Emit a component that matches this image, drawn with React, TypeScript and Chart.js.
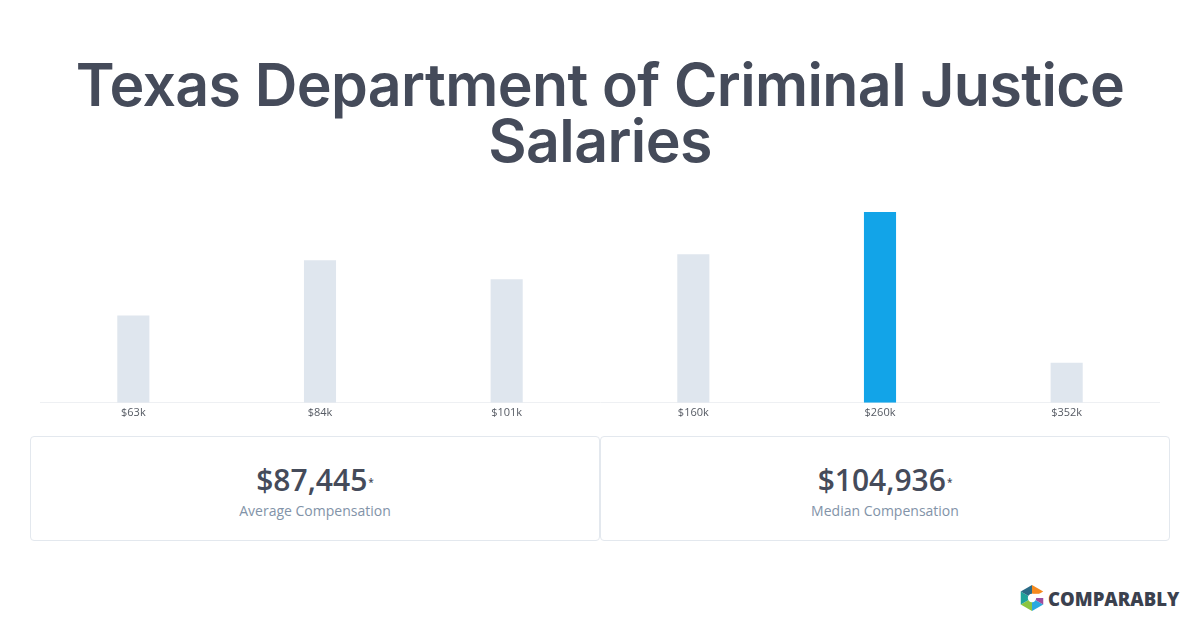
import React, { useEffect, useRef } from "react";
import { Chart, registerables } from "chart.js";

Chart.register(...registerables);

const titleLines = ["Texas Department of Criminal Justice", "Salaries"];
const categories = ["$63k", "$84k", "$101k", "$160k", "$260k", "$352k"];
const barHeights = [87, 142, 123, 148, 190, 40];
const highlightIndex = 4;
const statValues = ["$87,445", "$104,936"];
const statLabels = ["Average Compensation", "Median Compensation"];

const GREY = "#dfe6ee";
const BLUE = "#12a4e8";

function BarChart() {
  const ref = useRef<HTMLCanvasElement | null>(null);
  useEffect(() => {
    if (!ref.current) return;
    const chart = new Chart(ref.current, {
      type: "bar",
      data: {
        labels: categories,
        datasets: [
          {
            data: barHeights,
            backgroundColor: barHeights.map((_, i) => (i === highlightIndex ? BLUE : GREY)),
            barPercentage: 0.172,
            categoryPercentage: 1,
            borderWidth: 0,
          },
        ],
      },
      options: {
        responsive: false,
        animation: false,
        maintainAspectRatio: false,
        layout: { padding: 0 },
        plugins: { legend: { display: false }, tooltip: { enabled: false }, title: { display: false } },
        scales: {
          x: {
            grid: { display: false, drawTicks: false },
            border: { display: true, color: "#eef0f3", width: 1 },
            ticks: { color: "#555a63", font: { family: "'Open Sans'", size: 11 }, padding: 3 },
          },
          y: {
            display: false,
            min: 0,
            max: 190,
          },
        },
      },
    });
    return () => chart.destroy();
  }, []);
  return <canvas ref={ref} width={1120} height={210} style={{ width: 1120, height: 210, display: "block" }} />;
}

function Logo() {
  const cx = 13, cy = 13, r = 13;
  const pts = Array.from({ length: 6 }, (_, k) => {
    const a = (Math.PI / 3) * k - Math.PI / 2;
    return [cx + r * Math.cos(a), cy + r * Math.sin(a)];
  });
  const cols = ["#f58a1f", "#9d4c9e", "#2aa9e0", "#8cc540", "#1fa39b", "#2a6a86"];
  return (
    <div style={{ position: "absolute", left: 1019, top: 585, display: "flex", alignItems: "center" }}>
      <svg width={26} height={26} viewBox="0 0 26 26">
        {pts.map((p, k) => {
          const q = pts[(k + 1) % 6];
          if (k === 1) return null;
          return <polygon key={k} points={`${cx},${cy} ${p[0]},${p[1]} ${q[0]},${q[1]}`} fill={cols[k]} />;
        })}
        <polygon points={`${cx},${cy} ${pts[2][0]},${pts[2][1]} ${pts[2][0]},${cy}`} fill={cols[1]} />
        <circle cx={cx} cy={cy} r={4.2} fill="#fff" />
        <rect x={cx} y={cy - 4.2} width={r} height={4.2} fill="#fff" />
      </svg>
      <span
        style={{
          marginLeft: 3,
          fontFamily: "'Open Sans', sans-serif",
          fontWeight: 800,
          fontSize: 18.5,
          color: "#3b414e",
        }}
      >
        COMPARABLY
      </span>
    </div>
  );
}

export default function App() {
  return (
    <div style={{ position: "absolute", left: 0, top: 0, width: 1200, height: 630, background: "#fff", overflow: "hidden" }}>
      <div
        style={{
          position: "absolute",
          left: 0,
          top: 57,
          width: 1200,
          textAlign: "center",
          fontFamily: "Inter, sans-serif",
          fontWeight: 600,
          fontSize: 59,
          lineHeight: "56px",
          color: "#454b5a",
          letterSpacing: -0.6,
        }}
      >
        {titleLines.map((t, i) => (
          <div key={i}>{t}</div>
        ))}
      </div>
      <div style={{ position: "absolute", left: 40, top: 212 }}>
        <BarChart />
      </div>
      {statValues.map((v, i) => (
        <div
          key={i}
          style={{
            position: "absolute",
            left: 30 + i * 570,
            top: 436,
            width: 570,
            height: 105,
            boxSizing: "border-box",
            border: "1px solid #e3e8ee",
            borderRadius: 4,
            textAlign: "center",
            fontFamily: "'Open Sans', sans-serif",
          }}
        >
          <div style={{ marginTop: 23, fontSize: 30, fontWeight: 600, color: "#454b5a", lineHeight: "40px" }}>
            {v}
            <sup style={{ fontSize: 10, fontWeight: 600, verticalAlign: "top", position: "relative", top: 2, marginLeft: 1 }}>*</sup>
          </div>
          <div style={{ fontSize: 14, color: "#8293a8", lineHeight: "20px", marginTop: 1 }}>{statLabels[i]}</div>
        </div>
      ))}
      <Logo />
    </div>
  );
}
